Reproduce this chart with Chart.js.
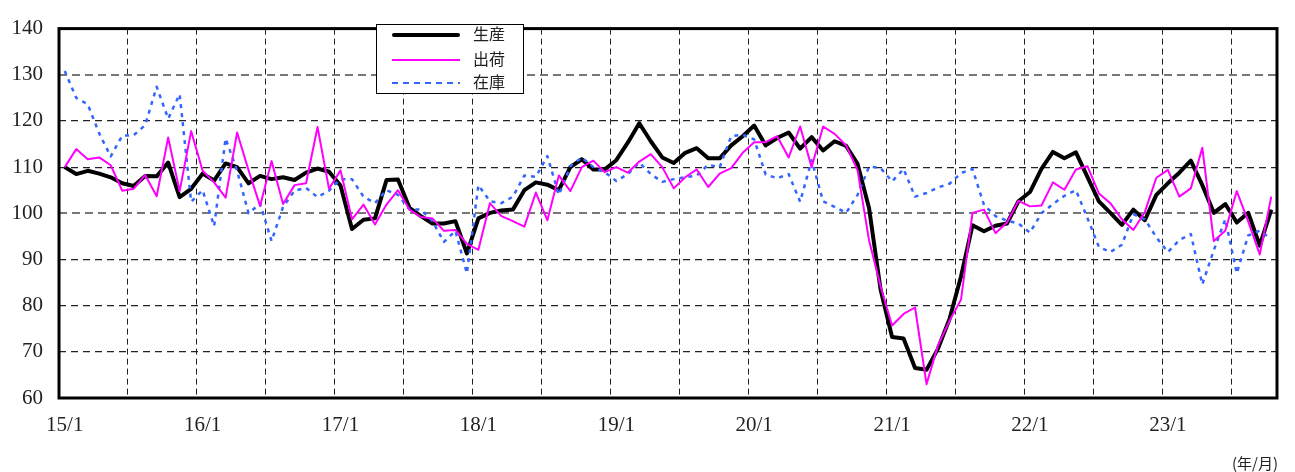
<!DOCTYPE html>
<html>
<head>
<meta charset="utf-8">
<script src="https://cdn.jsdelivr.net/npm/chart.js@4"></script>
<style>
  body { margin: 0; background: #fff; }
  #wrap { position: relative; width: 1295px; height: 472px; overflow: hidden; }
  #legend {
    position: absolute; left: 376px; top: 24px; width: 146px; height: 68px;
    border: 1px solid #000; background: #fff;
    font-family: "Noto Sans CJK JP", sans-serif; font-size: 16px; color: #222;
  }
  #legend .row { position: absolute; left: 0; height: 20px; width: 146px; }
  #legend .sample { position: absolute; left: 15px; width: 68px; }
  #legend .label { position: absolute; left: 96px; top: -2px; line-height: 20px; }
  #unit {
    position: absolute; left: 1232px; top: 455px; line-height: 16px;
    font-family: "Noto Sans CJK JP", sans-serif; font-size: 15px; color: #222;
  }
</style>
</head>
<body>
<div id="wrap">
  <canvas id="chart" width="1295" height="472"></canvas>
  <div id="legend"></div>
  <div id="unit">(年/月)</div>
</div>
<script>
// months 15/1 .. 23/10
const years = [15, 16, 17, 18, 19, 20, 21, 22, 23];
const lastMonth = 10;
const tickLabels = ["15/1", "16/1", "17/1", "18/1", "19/1", "20/1", "21/1", "22/1", "23/1"];

const seriesNames = ["生産", "出荷", "在庫"];

const production = [
  110.0, 108.5, 109.2, 108.6, 107.8, 106.5, 105.9, 108.1, 108.0, 111.0, 103.5, 105.3,
  108.6, 107.1, 110.8, 110.0, 106.5, 108.1, 107.4, 107.8, 107.2, 108.8, 109.7, 109.0,
  106.0, 96.6, 98.6, 98.9, 107.2, 107.3, 101.2, 99.4, 97.8, 97.8, 98.3, 91.3,
  98.9, 100.1, 100.6, 100.8, 105.0, 106.7, 106.2, 105.0, 110.0, 111.7, 109.5, 109.5,
  111.5, 115.3, 119.5, 115.6, 112.1, 110.9, 113.1, 114.1, 111.9, 111.9, 114.7, 116.7,
  119.0, 114.7, 116.3, 117.5, 114.0, 116.5, 113.6, 115.6, 114.6, 110.7, 101.1, 83.5,
  73.2, 72.9, 66.5, 66.1, 70.7, 77.1, 86.3, 97.4, 96.1, 97.3, 97.8, 102.6,
  104.6, 109.6, 113.3, 111.9, 113.2, 107.9, 102.6, 100.1, 97.5, 100.8, 98.5, 104.0,
  106.5, 108.8, 111.4, 106.1, 100.1, 102.0, 98.0, 100.1, 93.0, 100.8
];

const shipments = [
  110.0, 113.9, 111.7, 112.1, 110.4, 104.9, 105.3, 108.3, 103.7, 116.4, 104.8, 117.8,
  109.2, 106.7, 103.4, 117.5, 109.3, 101.6, 111.3, 102.0, 106.1, 106.5, 118.7, 105.3,
  109.3, 98.7, 101.9, 97.6, 101.9, 105.0, 100.8, 99.2, 98.9, 96.2, 96.4, 93.4,
  92.1, 102.2, 99.4, 98.3, 97.1, 104.5, 98.5, 108.2, 104.8, 110.0, 111.4, 108.9,
  110.0, 108.8, 111.2, 112.8, 110.0, 105.4, 107.8, 109.5, 105.7, 108.6, 109.8, 113.1,
  115.4, 115.4, 116.7, 112.1, 118.8, 110.0, 118.8, 117.2, 114.7, 109.3, 94.1, 84.2,
  75.7, 78.2, 79.6, 63.0, 71.4, 76.7, 81.3, 100.1, 100.8, 95.7, 98.0, 102.7,
  101.5, 101.7, 106.7, 105.1, 109.5, 110.2, 104.3, 102.2, 98.7, 96.4, 100.3, 107.7,
  109.4, 103.6, 105.4, 114.2, 94.0, 96.2, 104.8, 98.2, 91.1, 103.6
];

const inventory = [
  130.8, 125.0, 123.6, 117.3, 112.3, 116.8, 116.9, 119.1, 127.4, 120.5, 125.8, 102.5,
  105.0, 97.2, 116.2, 109.2, 100.0, 102.1, 94.0, 101.4, 104.9, 105.5, 103.5, 104.9,
  107.4, 107.4, 103.6, 102.2, 105.0, 104.0, 100.8, 100.8, 98.3, 93.8, 96.2, 87.0,
  106.1, 102.6, 102.2, 103.6, 108.2, 107.9, 112.4, 104.0, 110.2, 112.1, 110.0, 108.9,
  107.0, 108.5, 111.0, 108.5, 106.8, 107.4, 107.8, 108.2, 110.5, 110.0, 116.7, 117.0,
  116.0, 108.4, 107.6, 108.5, 102.5, 111.5, 102.6, 101.4, 100.1, 104.0, 110.1, 109.8,
  106.9, 109.6, 103.6, 104.4, 105.6, 106.4, 108.7, 109.6, 101.8, 99.4, 98.4, 97.8,
  95.8, 100.0, 102.0, 103.8, 105.0, 99.0, 92.7, 91.6, 93.2, 99.8, 98.7, 94.8,
  91.6, 94.2, 95.5, 84.6, 92.0, 98.7, 87.0, 95.2, 96.2, 94.5
];

const yTicks = [60, 70, 80, 90, 100, 110, 120, 130, 140];

const categories = [];
years.forEach(function (y, i) {
  const end = i === years.length - 1 ? lastMonth : 12;
  for (let m = 1; m <= end; m++) categories.push(y + "/" + m);
});

const styles = [
  { color: "#000000", width: 4, dash: [] },
  { color: "#ff00ff", width: 2, dash: [] },
  { color: "#3366ff", width: 2.5, dash: [4, 5] },
];

const frame = {
  id: "frame",
  afterDraw(chart) {
    const a = chart.chartArea;
    const ctx = chart.ctx;
    ctx.save();
    ctx.strokeStyle = "#000";
    ctx.lineWidth = 3;
    ctx.strokeRect(a.left, a.top, a.right - a.left, a.bottom - a.top);
    ctx.restore();
  },
};

const ctx = document.getElementById("chart").getContext("2d");
const chart = new Chart(ctx, {
  type: "line",
  data: {
    labels: categories,
    datasets: [production, shipments, inventory].map(function (d, i) {
      return {
        label: seriesNames[i],
        data: d,
        borderColor: styles[i].color,
        borderWidth: styles[i].width,
        borderDash: styles[i].dash,
        borderJoinStyle: "round",
        pointRadius: 0,
        tension: 0,
        fill: false,
        order: [2, 0, 1][i],
      };
    }),
  },
  options: {
    responsive: false,
    animation: false,
    layout: { padding: { left: 0, top: 20, right: 18, bottom: 0 } },
    plugins: { legend: { display: false }, tooltip: { enabled: false } },
    scales: {
      x: {
        offset: true,
        border: { display: false, dash: [6, 4] },
        grid: {
          offset: true,
          drawTicks: false,
          lineWidth: 1,
          color: function (c) {
            return c.index % 6 === 0 ? "#222" : "rgba(0,0,0,0)";
          },
        },
        ticks: {
          autoSkip: false,
          maxRotation: 0,
          padding: 15,
          color: "#222",
          font: { family: "Liberation Serif", size: 21 },
          callback: function (v, i) {
            const lab = categories[i];
            return tickLabels.indexOf(lab) >= 0 ? lab : "";
          },
        },
        afterFit: function (s) { s.height = 74; },
      },
      y: {
        min: 60,
        max: 140,
        border: {
          display: false,
          dash: function (c) {
            const v = c.tick ? c.tick.value : 0;
            return v === 130 || v === 100 ? [8, 5] : [7, 5];
          },
        },
        grid: {
          drawTicks: false,
          color: function (c) {
            const v = c.tick ? c.tick.value : 0;
            if (v === 60 || v === 140) return "rgba(0,0,0,0)";
            return v === 130 || v === 100 ? "#777" : "#222";
          },
          lineWidth: function (c) {
            const v = c.tick ? c.tick.value : 0;
            return v === 130 || v === 100 ? 2 : 1.2;
          },
        },
        afterBuildTicks: function (s) {
          s.ticks = yTicks.map(function (v) { return { value: v }; });
        },
        ticks: {
          padding: 16,
          color: "#222",
          font: { family: "Liberation Serif", size: 21 },
        },
        afterFit: function (s) { s.width = 59; },
      },
    },
  },
  plugins: [frame],
});

// legend
const legend = document.getElementById("legend");
const rowTops = [0, 25, 48];
seriesNames.forEach(function (name, i) {
  const row = document.createElement("div");
  row.className = "row";
  row.style.top = rowTops[i] + "px";
  const sample = document.createElement("div");
  sample.className = "sample";
  const st = styles[i];
  sample.style.top = (10 - st.width / 2) + "px";
  sample.style.height = st.width + "px";
  if (st.dash.length) {
    sample.style.background = "repeating-linear-gradient(90deg," + st.color + " 0 6px, transparent 6px 11px)";
  } else {
    sample.style.background = st.color;
    if (i === 0) sample.style.borderRadius = "3px";
  }
  const label = document.createElement("div");
  label.className = "label";
  label.textContent = name;
  row.appendChild(sample);
  row.appendChild(label);
  legend.appendChild(row);
});
</script>
</body>
</html>
